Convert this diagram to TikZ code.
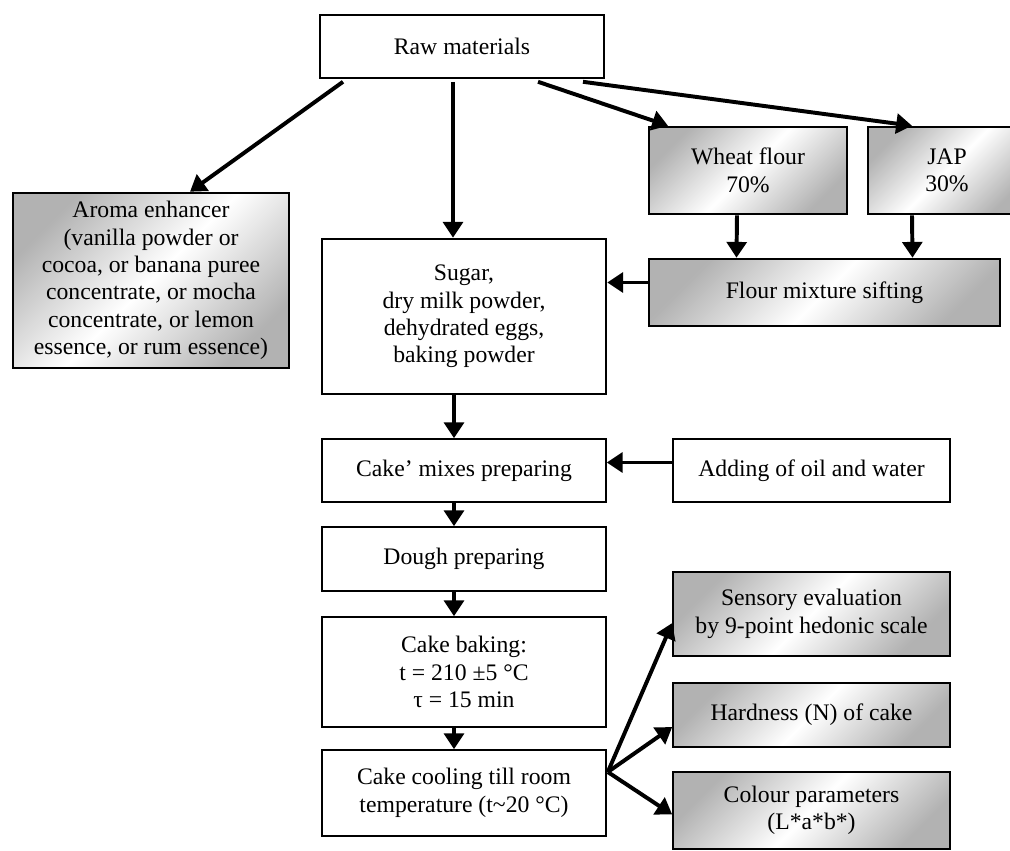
\documentclass[tikz,border=0pt]{standalone}
\usepackage{fontspec}
\setmainfont{Liberation Serif}
\usetikzlibrary{arrows.meta,calc}

\begin{document}
\begin{tikzpicture}[x=0.0178cm, y=-0.0178cm,
    every node/.style = {shape=rectangle, draw, align=center, inner sep=0pt,
      font=\fontsize{12}{13.9}\selectfont},
    sz/.style 2 args = {minimum width=#1*0.0178cm, minimum height=#2*0.0178cm},
    box/.style = {line width=0.8pt},
    heavybox/.style = {line width=1.3pt},
    shadebox/.style = {top color=black!30, bottom color=black!30,
      middle color=white, shading angle=45},
    arr/.style = {line width=2pt, -{Triangle[length=8pt,width=10pt]}}]
  \useasboundingbox (0,0) rectangle (1010,850);

  % top row
  \node[box, sz={284}{63}] (raw) at (462,46.5) {Raw materials};
  \node[heavybox, shadebox, sz={276}{175}] (aroma) at (151,280.5)
    {Aroma enhancer\\ (vanilla powder or\\ cocoa, or banana puree\\
     concentrate, or mocha\\ concentrate, or lemon\\ essence, or rum essence)};
  \node[heavybox, shadebox, sz={198}{87}] (wheat) at (748,170.5) {Wheat flour\\ 70\%};
  \node[heavybox, shadebox, sz={158}{87}] (jap) at (947,170.5) {JAP\\ 30\%};
  \node[heavybox, shadebox, sz={351}{67}] (sift) at (824.5,292.5) {Flour mixture sifting};

  % main column
  \node[heavybox, sz={284}{155}] (sugar) at (464,316.5)
    {Sugar,\\ dry milk powder,\\ dehydrated eggs,\\ baking powder};
  \node[box, sz={284}{63}] (mixes) at (464,470.5) {Cake’ mixes preparing};
  \node[box, sz={277}{63}] (adding) at (811.5,470.5) {Adding of oil and water};
  \node[box, sz={284}{64}] (dough) at (464,559) {Dough preparing};
  \node[box, sz={284}{110}] (baking) at (464,672)
    {Cake baking:\\ t = 210 ±5 °C\\ τ = 15 min};
  \node[box, sz={284}{86}] (cooling) at (464,793)
    {Cake cooling till room\\ temperature (t\textasciitilde20 °C)};

  % quality checks
  \node[box, shadebox, sz={277}{84}] (sensory) at (811.5,614)
    {Sensory evaluation\\ by 9-point hedonic scale};
  \node[box, shadebox, sz={277}{64}] (hardness) at (811.5,715) {Hardness (N) of cake};
  \node[box, shadebox, sz={277}{77}] (colour) at (811.5,810.5)
    {Colour parameters\\ (L*a*b*)};

  % arrows
  \draw[arr] ($(raw.south)+(-119,3)$) -- ($(aroma.north)+(39,0)$);
  \draw[arr] ($(raw.south)+(-9,3)$) -- ($(sugar.north)+(-11,0)$);
  \draw[arr] ($(raw.south)+(76,3)$) -- ($(wheat.north)+(-80,0)$);
  \draw[arr] ($(raw.south)+(121,3)$) -- ($(jap.north)+(-35,0)$);
  \draw[arr] ($(wheat.south)+(-11,0)$) -- ($(sift.north)+(-88,0)$);
  \draw[arr] ($(jap.south)+(-35,0)$) -- ($(sift.north)+(88,0)$);
  \draw[arr] ($(sift.west)+(0,-10)$) -- ($(sugar.east)+(0,-34)$);
  \draw[arr] ($(sugar.south)+(-10,0)$) -- ($(mixes.north)+(-10,0)$);
  \draw[arr] ($(adding.west)+(0,-8)$) -- ($(mixes.east)+(0,-8)$);
  \draw[arr] ($(mixes.south)+(-10,0)$) -- ($(dough.north)+(-10,0)$);
  \draw[arr] ($(dough.south)+(-10,0)$) -- ($(baking.north)+(-10,0)$);
  \draw[arr] ($(baking.south)+(-10,0)$) -- ($(cooling.north)+(-10,0)$);
  \draw[arr] ($(cooling.east)+(1,-21)$) -- ($(sensory.west)+(0,9)$);
  \draw[arr] ($(cooling.east)+(1,-21)$) -- ($(hardness.west)+(0,12)$);
  \draw[arr] ($(cooling.east)+(1,-21)$) -- ($(colour.west)+(0,4)$);
\end{tikzpicture}
\end{document}
